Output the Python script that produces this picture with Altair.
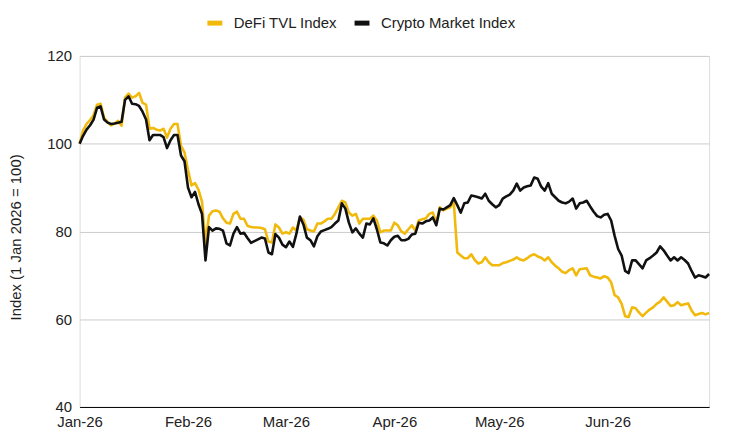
import altair as alt
import pandas as pd

start_date = "2026-01-01"
series_names = ["DeFi TVL Index", "Crypto Market Index"]
series_colors = ["#F0B90B", "#111111"]

defi = [
    100, 103, 104.5, 105.4, 106.5, 108.9, 109.1, 105.9, 105, 104.2,
    104.6, 105.2, 104.1, 110.5, 111.4, 110.5, 110.8, 111.6, 109.3, 108.9,
    103.4, 103.6, 103.2, 103, 103.4, 101.4, 103.4, 104.5, 104.5, 99.5,
    98, 94, 90.5, 91, 89.5, 86.8, 77.3, 83.6, 84.6, 84.8,
    84.5, 83, 82, 81.8, 84, 84.5, 82.9, 82.9, 81.3, 81,
    80.9, 80.9, 80.8, 80.5, 77.7, 77.5, 81.6, 80.9, 79.5, 79.8,
    79.5, 80.9, 80.2, 83.2, 82.7, 80.5, 80.2, 80, 81.8, 81.8,
    82.3, 82.9, 82.9, 84, 85.5, 87, 86.6, 84.3, 83.6, 84,
    81.8, 82.9, 82.9, 82.9, 83.6, 82.5, 79.8, 80.2, 80.2, 80.2,
    82, 81.4, 80, 79.5, 80.5, 81.4, 80.2, 82.5, 82.8, 83,
    84, 84.3, 82, 85.5, 84.8, 85.2, 85.5, 86.6, 75.2, 74.5,
    73.9, 73.9, 74.8, 73.5, 72.7, 73, 74.1, 73, 72.3, 72.3,
    72.3, 72.8, 73, 73.3, 73.6, 74.1, 73.6, 73.4, 73.9, 74.5,
    74.8, 74.3, 74, 73.4, 74.1, 73, 72.2, 71.6, 70.8, 70.5,
    71.2, 71.6, 70, 71.4, 71.5, 71.6, 70, 69.7, 69.5, 69.3,
    69.8, 69.5, 68.4, 65.5, 65, 63.5, 60.7, 60.5, 62.7, 62.5,
    61.5, 60.7, 61.5, 62.2, 62.7, 63.5, 64, 65, 64, 63,
    63.2, 63.9, 63.2, 63.4, 63.6, 62, 60.9, 61.2, 61.4, 61.1,
    61.4,
]

crypto = [
    100, 101.8, 103.2, 104.2, 105.5, 108.2, 108.5, 105.5, 104.8, 104.5,
    104.6, 104.8, 105, 110, 110.8, 109.1, 109, 108.6, 107.3, 105.5,
    100.8, 102, 102, 102, 101.5, 99, 100.8, 102, 102, 97.3,
    96, 90, 87.8, 89, 86.2, 84, 73.4, 81, 80.2, 80.7,
    80.6, 80.2, 77.3, 76.8, 79.5, 81, 79.5, 79.7, 78.5, 77.4,
    77.8, 78.2, 78.6, 78.4, 75.2, 74.8, 79.4, 78.6, 77, 76.4,
    77.7, 76.5, 79.5, 83.4, 81.6, 78.6, 78, 76.6, 78.9, 80,
    80.3, 80.6, 81, 81.8, 82.5, 86.4, 85.2, 82, 79.8, 80.7,
    79.5, 78.6, 81.8, 81.6, 83, 80.5, 77.5, 77.3, 76.8, 78,
    78.8, 79, 78, 78, 78.3, 79.3, 79.5, 82, 81.8, 82.3,
    82.5, 83.2, 81.4, 85.2, 85, 85.5, 86, 87.6, 86, 84.3,
    86.4, 86.6, 88.2, 88, 87.8, 87.5, 88.6, 87, 86.2, 85.5,
    86, 87.5, 88, 88.4, 89.3, 90.9, 89.3, 90, 90.3, 90.5,
    92.3, 92, 90.2, 89.3, 91, 88.6, 87.8, 87, 86.6, 86.4,
    86.8, 87.5, 85.2, 86.4, 86.6, 87, 85.7, 84.5, 83.5, 83.2,
    83.8, 84, 82.5, 79, 76, 74.5, 71, 70.5, 73.4, 73.4,
    72.5, 71.6, 73.4, 73.9, 74.5, 75.2, 76.6, 75.7, 74.5, 73.4,
    74.1, 73.4, 74.1, 73.5, 72.7, 71, 69.5, 70, 69.8, 69.5,
    70.3,
]

assert len(defi) == len(crypto)
dates = pd.date_range(start_date, periods=len(defi), freq="D")

rows = []
for name, vals in zip(series_names, [defi, crypto]):
    for d, v in zip(dates, vals):
        rows.append({"date": d, "value": v, "series": name})
df = pd.DataFrame(rows)
df["order"] = df["series"].map({n: i for i, n in enumerate(series_names)})

month_ticks = [alt.DateTime(year=2026, month=m, date=1) for m in range(1, 7)]
FONT = "Liberation Sans"
TXT = "#222222"

chart = (
    alt.Chart(df)
    .mark_line(strokeWidth=2.6, strokeJoin="round")
    .encode(
        x=alt.X(
            "date:T",
            scale=alt.Scale(nice=False),
            axis=alt.Axis(
                title=None,
                format="%b-%y",
                values=month_ticks,
                grid=False,
                ticks=False,
                domain=True,
                domainColor="#000000",
                domainWidth=1,
                labelFlush=False,
                labelPadding=8,
                labelFont=FONT,
                labelFontSize=15,
                labelColor=TXT,
            ),
        ),
        y=alt.Y(
            "value:Q",
            scale=alt.Scale(domain=[40, 120], nice=False, zero=False),
            axis=alt.Axis(
                title="Index (1 Jan 2026 = 100)",
                values=[40, 60, 80, 100, 120],
                grid=True,
                gridColor="#cccccc",
                gridWidth=1,
                ticks=False,
                domain=False,
                labelPadding=8,
                labelFont=FONT,
                labelFontSize=15,
                labelColor=TXT,
                titleFont=FONT,
                titleFontSize=15,
                titleFontWeight="normal",
                titleColor=TXT,
                titlePadding=23,
                titleY=182,
            ),
        ),
        color=alt.Color(
            "series:N",
            scale=alt.Scale(domain=series_names, range=series_colors),
            sort=series_names,
            legend=alt.Legend(
                title=None,
                orient="none",
                direction="horizontal",
                legendX=126,
                legendY=-43,
                symbolType="stroke",
                symbolStrokeWidth=5,
                symbolSize=225,
                labelFont=FONT,
                labelFontSize=15,
                labelColor=TXT,
                labelOffset=9,
                columnPadding=6,
            ),
        ),
        order=alt.Order("order:Q"),
        detail="series:N",
    )
    .properties(
        width=633,
        height=353,
        autosize=alt.AutoSizeParams(type="none"),
        padding={"left": 72, "top": 47, "right": 12, "bottom": 30},
    )
    .configure_view(stroke=None)
    .configure(background="#ffffff")
)

chart.save("out.html", embed_options={"renderer": "svg", "actions": False})
